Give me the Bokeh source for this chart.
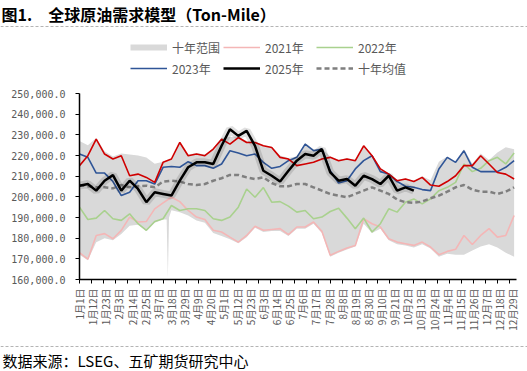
import math
from bokeh.plotting import figure
from bokeh.layouts import column
from bokeh.models import (Range1d, FixedTicker, NumeralTickFormatter, Legend, LegendItem, Label)
from bokeh.embed import file_html
from bokeh.resources import INLINE

# ---------------- data (values in thousand ton-miles) ----------------
days = list(range(0, 365, 7))  # day of year, weekly samples

y2021 = [173.0, 169.8, 181.3, 182.2, 179.7, 183.8, 190.2, 187.8, 188.1, 194.2, 197.1, 199.8, 197.7,
         193.4, 190.2, 189.0, 183.8, 183.0, 180.5, 178.1, 181.3, 185.8, 183.8, 184.2, 184.6, 181.7,
         185.4, 185.4, 187.8, 183.3, 171.7, 173.6, 175.2, 176.5, 189.4, 187.0, 185.4, 179.7, 178.1,
         177.3, 176.5, 178.1, 175.7, 172.0, 173.6, 174.6, 181.3, 176.9, 181.3, 184.6, 180.5, 181.3, 191.0]
y2022 = [195.0, 189.0, 189.7, 193.4, 189.4, 188.6, 191.8, 187.0, 183.8, 188.1, 189.4, 195.8, 193.4,
         194.2, 194.2, 193.4, 189.4, 188.6, 190.2, 195.0, 203.8, 199.8, 204.5, 197.4, 197.7, 195.5,
         192.6, 193.4, 189.4, 190.2, 192.9, 194.5, 189.7, 184.6, 189.7, 183.0, 187.0, 194.2, 192.6,
         197.4, 199.0, 196.6, 199.0, 203.0, 204.6, 207.0, 215.9, 212.2, 213.8, 217.5, 219.1, 215.9, 221.2]
y2023 = [220.7, 219.1, 211.5, 211.5, 207.4, 200.6, 202.2, 207.8, 207.8, 206.2, 214.3, 214.7, 214.3,
         217.0, 215.1, 215.1, 213.8, 215.9, 222.3, 221.2, 219.9, 220.7, 216.7, 213.8, 214.7, 217.5,
         219.1, 225.5, 222.3, 223.1, 212.6, 206.7, 207.8, 213.5, 217.5, 219.9, 212.2, 211.0, 207.4,
         205.1, 204.6, 203.5, 203.0, 213.5, 219.1, 216.7, 222.3, 214.3, 212.2, 212.2, 212.2, 214.3, 217.5]
y2024 = [215.1, 219.9, 227.9, 220.7, 218.3, 219.9, 210.2, 211.0, 209.4, 207.0, 216.7, 218.3, 226.3,
         219.9, 220.7, 219.9, 223.1, 227.9, 225.5, 228.7, 226.3, 226.3, 224.7, 223.9, 219.1, 218.3,
         215.1, 215.9, 216.7, 218.3, 219.1, 217.5, 218.3, 217.5, 224.7, 219.9, 213.5, 211.0, 207.8,
         208.6, 207.4, 209.4, 205.7, 205.1, 207.4, 210.2, 215.1, 215.1, 219.9, 215.9, 211.8, 211.0, 208.6]
y2025 = [205.4, 206.2, 203.0, 207.8, 210.5, 203.0, 207.8, 203.8, 197.4, 202.2, 201.4, 200.6, 207.8,
         214.3, 216.7, 216.7, 215.9, 224.7, 232.7, 229.5, 231.9, 224.7, 212.6, 210.2, 207.4, 212.6,
         217.5, 220.7, 219.9, 223.1, 211.8, 207.8, 208.6, 205.4, 210.2, 208.6, 206.2, 210.2, 203.0,
         204.6, 203.0]
avg10 = [205.7, 205.1, 204.6, 204.6, 204.1, 205.7, 204.6, 205.1, 205.4, 204.6, 207.4, 207.8, 207.4,
         206.2, 205.7, 206.2, 207.8, 209.0, 210.6, 210.6, 209.4, 208.6, 209.4, 206.7, 205.1, 205.1,
         206.2, 206.2, 204.6, 203.0, 201.4, 200.6, 199.8, 201.4, 203.0, 204.6, 203.0, 201.4, 198.7,
         197.4, 197.1, 197.7, 199.3, 200.6, 202.5, 204.6, 205.7, 203.5, 202.5, 202.5, 201.4, 202.5, 204.6]

range_days = [0, 7, 14, 21, 28, 35, 42, 49, 56, 63, 70, 73, 74, 75, 77, 84, 91, 98, 105, 112, 119,
              126, 133, 140, 147, 154, 161, 168, 175, 182, 189, 196, 203, 210, 217, 224, 231, 238,
              245, 252, 259, 266, 273, 280, 287, 294, 301, 308, 315, 322, 329, 336, 343, 350, 357, 364]
range_high = [227.0, 225.0, 228.5, 222.0, 219.5, 221.0, 220.5, 220.0, 219.0, 216.0, 217.0, 217.5, 217.5,
              218.0, 218.5, 226.8, 220.5, 221.2, 220.5, 223.5, 228.5, 229.0, 229.2, 227.0, 226.8, 225.0,
              224.2, 220.0, 218.8, 219.5, 226.0, 223.0, 223.5, 219.5, 218.0, 218.7, 218.0, 225.0, 220.5,
              214.0, 211.5, 208.2, 209.0, 207.8, 210.0, 208.0, 217.0, 219.5, 217.0, 223.0, 216.0, 221.0,
              217.8, 221.5, 224.0, 223.0]
range_low = [172.0, 169.3, 178.0, 180.0, 179.0, 182.0, 186.0, 186.5, 183.5, 187.5, 189.0, 189.0, 161.0,
             190.0, 193.5, 192.5, 191.0, 188.5, 187.5, 182.5, 181.0, 179.5, 177.5, 180.5, 185.0, 183.0,
             183.5, 183.5, 181.0, 184.5, 184.5, 187.0, 182.5, 171.0, 173.0, 174.5, 176.0, 187.0, 182.5,
             184.5, 179.0, 177.0, 176.5, 175.5, 177.0, 175.0, 171.0, 172.5, 172.0, 172.0, 174.0, 176.0,
             177.0, 175.5, 173.0, 171.0]

tick_days = [0, 11, 22, 33, 44, 55, 66, 77, 88, 99, 110, 121, 132, 143, 154, 165, 176, 187, 198,
             209, 220, 231, 242, 253, 264, 275, 286, 297, 308, 319, 330, 341, 352, 363]
tick_labels = ["1月1日", "1月12日", "1月23日", "2月3日", "2月14日", "2月25日", "3月7日", "3月18日",
               "3月29日", "4月9日", "4月20日", "5月1日", "5月12日", "5月23日", "6月3日", "6月14日",
               "6月25日", "7月6日", "7月17日", "7月28日", "8月8日", "8月19日", "8月30日", "9月10日",
               "9月21日", "10月2日", "10月13日", "10月24日", "11月4日", "11月15日", "11月26日",
               "12月7日", "12月18日", "12月29日"]
y_ticks = [160000, 170000, 180000, 190000, 200000, 210000, 220000, 230000, 240000, 250000]

title_text = "图1.\u3000全球原油需求模型（Ton-Mile）"
source_text = "数据来源：LSEG、五矿期货研究中心"
legend_labels = ["十年范围", "2021年", "2022年", "2023年", "2025年", "十年均值"]


def k(vals):
    return [v * 1000 for v in vals]


CJK = "Noto Sans CJK SC"
GREY_TXT = "#595959"
W = 527
TOP_H, MAIN_H, BOT_H = 83, 257, 31
ML, MR, MT, MB = 79, 11, 10, 61

C_RNG, C_PINK, C_GREEN = "#d9d9d9", "#f4b6b6", "#a9d18e"
C_BLUE, C_RED, C_MEAN = "#2f5597", "#d00000", "#7f7f7f"
C_RULE = "#b4b4b4"


def blank(h):
    f = figure(width=W, height=h, output_backend="svg", toolbar_location=None, title=None,
               x_range=Range1d(0, W), y_range=Range1d(h, 0),
               x_axis_location=None, y_axis_location=None, frame_align=False,
               min_border=0, min_border_left=0, min_border_right=0,
               min_border_top=0, min_border_bottom=0)
    f.outline_line_color = None
    f.grid.visible = False
    return f


# ---------------- main chart ----------------
p = figure(width=W, height=MAIN_H, output_backend="svg", toolbar_location=None, title=None,
           x_range=Range1d(0, 366), y_range=Range1d(160000, 250000), frame_align=False,
           min_border_left=ML, min_border_right=MR, min_border_top=MT, min_border_bottom=MB)
p.outline_line_color = None
p.grid.visible = False

xa = p.xaxis[0]
xa.ticker = FixedTicker(ticks=tick_days, minor_ticks=list(range(0, 361, 10)))
xa.major_label_overrides = {d: lab for d, lab in zip(tick_days, tick_labels)}
xa.major_label_orientation = math.pi / 2
xa.major_label_text_font = CJK
xa.major_label_text_font_size = "10px"
xa.major_label_text_color = GREY_TXT
xa.major_tick_line_color = None
xa.major_tick_out = 4
xa.major_tick_in = 0
xa.minor_tick_line_color = "black"
xa.minor_tick_out = 4
xa.minor_tick_in = 0
xa.axis_line_color = "black"
xa.axis_line_width = 1.5
xa.major_label_standoff = 5

ya = p.yaxis[0]
ya.ticker = FixedTicker(ticks=y_ticks)
ya.formatter = NumeralTickFormatter(format="0,0.0")
ya.major_label_text_font = "DejaVu Sans Mono"
ya.major_label_text_font_size = "10px"
ya.major_label_text_color = GREY_TXT
ya.major_tick_out = 4
ya.major_tick_in = 0
ya.minor_tick_line_color = None
ya.axis_line_color = "black"
ya.axis_line_width = 1.5
ya.major_label_standoff = 10

p.varea(x=range_days, y1=k(range_low), y2=k(range_high), fill_color=C_RNG)
p.line(days, k(y2021), line_color=C_PINK, line_width=1.6)
p.line(days, k(y2022), line_color=C_GREEN, line_width=1.6)
p.line(days, k(avg10), line_color=C_MEAN, line_width=2.5, line_dash="5 3")
p.line(days, k(y2023), line_color=C_BLUE, line_width=1.6)
p.line(days, k(y2024), line_color=C_RED, line_width=1.6)
p.line(days[:len(y2025)], k(y2025), line_color="black", line_alpha=0.12, line_width=8)
p.line(days[:len(y2025)], k(y2025), line_color="black", line_width=2.5)

# ---------------- header: title, rule, legend ----------------
top = blank(TOP_H)
top.add_layout(Label(x=1, y=13, text=title_text, text_font=CJK, text_font_style="bold",
                     text_font_size="16px", text_color="black", text_baseline="alphabetic"))
top.line([0, W], [26, 26], line_color=C_RULE, line_width=1, line_dash="3 2")
# legend swatches: one off-canvas point each, styled like the chart's series
off = ([-100.0], [-100.0])
lr = [
    top.line(*off, line_color=C_RNG, line_width=6),
    top.line(*off, line_color=C_PINK, line_width=1.6),
    top.line(*off, line_color=C_GREEN, line_width=1.6),
    top.line(*off, line_color=C_BLUE, line_width=1.6),
    top.line(*off, line_color="black", line_width=2.5),
    top.line(*off, line_color=C_MEAN, line_width=2.5, line_dash="5 3"),
]
legend = Legend(items=[LegendItem(label=t, renderers=[r]) for t, r in zip(legend_labels, lr)],
                location=(130, 6), orientation="horizontal", ncols=3,
                glyph_width=37, glyph_height=18, label_height=18, label_width=48,
                label_standoff=5, spacing=3, padding=0, margin=0,
                border_line_color=None, background_fill_alpha=0,
                label_text_font=CJK, label_text_font_size="12px", label_text_color=GREY_TXT)
top.add_layout(legend)

# ---------------- footer: rule, source ----------------
bot = blank(BOT_H)
bot.line([0, W], [6, 6], line_color=C_RULE, line_width=1, line_dash="3 2")
bot.add_layout(Label(x=2, y=19.5, text=source_text, text_font=CJK, text_font_size="15px",
                     text_color="black", text_baseline="alphabetic"))

layout = column(top, p, bot, spacing=0)
open("out.html", "w").write(file_html(layout, INLINE))
